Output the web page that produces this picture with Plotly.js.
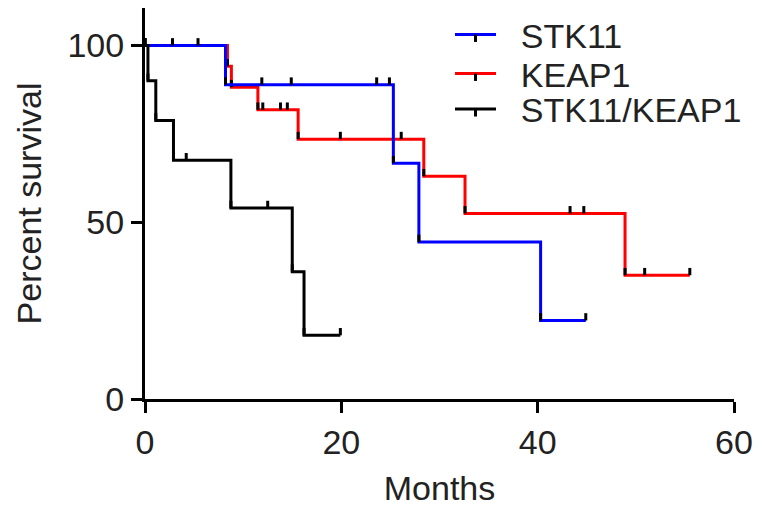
<!DOCTYPE html>
<html><head><meta charset="utf-8">
<script src="https://cdn.plot.ly/plotly-3.0.1.min.js"></script>
<style>html,body{margin:0;padding:0;background:#fff}#chart{width:768px;height:510px}</style>
</head><body><div id="chart"></div>
<script>
// ---- data ----
const groupNames = ['STK11', 'KEAP1', 'STK11/KEAP1'];

// STK11: step points (events and censored points), months / percent survival
const stk11Months   = [0, 2.8, 5.4, 8.2, 11.9, 14.9, 23.6, 24.9, 25.3, 27.9, 40.3, 44.9];
const stk11Survival = [100, 100, 100, 88.9, 88.9, 88.9, 88.9, 88.9, 66.7, 44.4, 22.2, 22.2];

// KEAP1
const keap1Months   = [0, 8.4, 8.8, 11.5, 12.0, 13.8, 14.5, 15.6, 19.9, 26.1, 28.4, 32.6, 43.3, 44.7, 48.9, 50.9, 55.5];
const keap1Survival = [100, 94.1, 88.2, 81.8, 81.8, 81.8, 81.8, 73.5, 73.5, 73.5, 63.0, 52.5, 52.5, 52.5, 35.0, 35.0, 35.0];

// STK11/KEAP1
const comboMonths   = [0, 0.3, 1.1, 2.9, 4.2, 8.75, 12.5, 15.0, 16.2, 19.9];
const comboSurvival = [100, 90, 78.75, 67.5, 67.5, 54, 54, 36, 18, 18];

const xTickVals = [0, 20, 40, 60];
const yTickVals = [0, 50, 100];

// ---- styling ----
const FONT = '"Liberation Sans", Arial, Helvetica, sans-serif';
const TEXT = '#222222';
const PAD = '\u2002\u200A'; // gap between legend symbol and its label

function kmTrace(name, x, y, color, legendId) {
  return {
    type: 'scatter', mode: 'lines+markers', name: PAD + name,
    x: x, y: y,
    line: {shape: 'hv', color: color, width: 3},
    marker: {symbol: 'line-ns', size: 5.2, angle: 180, standoff: 3.7, color: '#000',
             line: {color: '#000', width: 3}},
    legend: legendId, cliponaxis: false, hoverinfo: 'skip'
  };
}

const data = [
  kmTrace(groupNames[1], keap1Months, keap1Survival, '#ff0000', 'legend2'),
  kmTrace(groupNames[0], stk11Months, stk11Survival, '#0000ff', 'legend'),
  kmTrace(groupNames[2], comboMonths, comboSurvival, '#000000', 'legend3')
];

const L = 145, R = 34, T = 8, B = 111, W = 768, H = 510;
function leg(yPx) {
  return {x: (450 - L) / (W - L - R), y: (H - B - yPx) / (H - T - B),
          xref: 'paper', yref: 'paper',
          xanchor: 'left', yanchor: 'middle', bgcolor: 'rgba(0,0,0,0)',
          borderwidth: 0, itemwidth: 41,
          font: {family: FONT, size: 34, color: TEXT}};
}

const axisCommon = {
  showgrid: false, zeroline: false, showline: true, linewidth: 3, linecolor: '#000',
  ticks: 'outside', ticklen: 11, tickwidth: 3, tickcolor: '#000',
  tickfont: {family: FONT, size: 34, color: TEXT}, fixedrange: true
};

const layout = {
  width: W, height: H,
  margin: {l: L, r: R, t: T, b: B, pad: 0, autoexpand: false},
  paper_bgcolor: '#ffffff', plot_bgcolor: '#ffffff',
  font: {family: FONT, size: 34, color: TEXT},
  showlegend: true,
  legend: leg(35), legend2: leg(74), legend3: leg(109.5),
  xaxis: Object.assign({}, axisCommon, {
    range: [0, 60], tickmode: 'array', tickvals: xTickVals,
    title: {text: 'Months', font: {family: FONT, size: 34, color: TEXT}, standoff: 17}
  }),
  yaxis: Object.assign({}, axisCommon, {
    range: [0, 110.6], tickmode: 'array', tickvals: yTickVals,
    title: {text: 'Percent survival', font: {family: FONT, size: 34, color: TEXT}, standoff: 16}
  })
};

Plotly.newPlot('chart', data, layout, {displayModeBar: false, staticPlot: true});
</script>
</body></html>
